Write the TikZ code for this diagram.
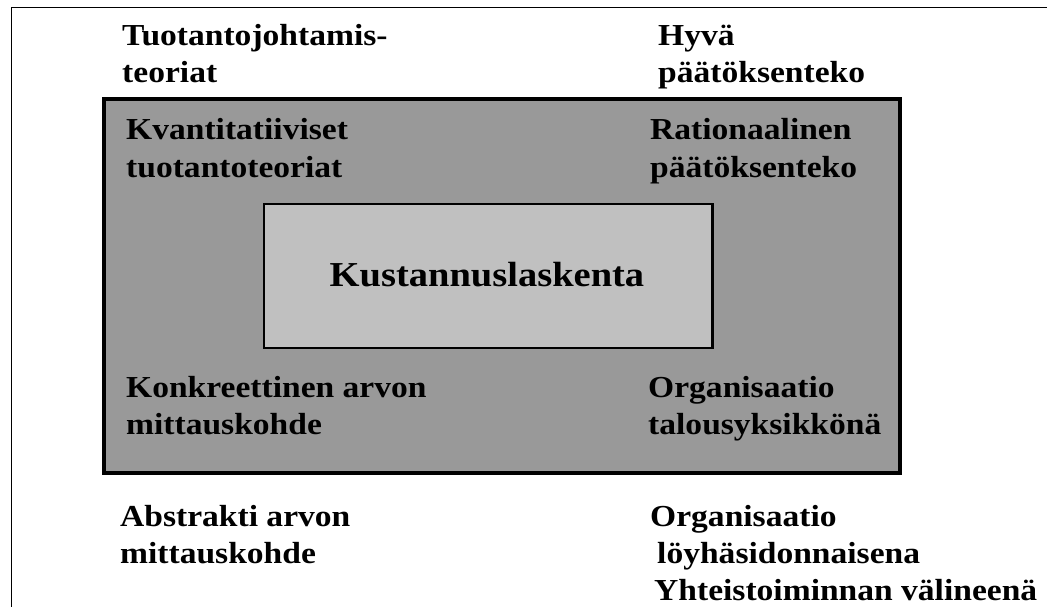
\documentclass[tikz,border=0pt]{standalone}
\usepackage{fontspec}
\setmainfont{Liberation Serif}[FakeStretch=1.1]
\definecolor{outerfill}{HTML}{999999}
\definecolor{innerfill}{HTML}{C0C0C0}
\begin{document}
\begin{tikzpicture}[x=1pt,y=-1pt,
  % multi-line labels are anchored at the baseline of their last line
  lbl/.style={anchor=base west,inner sep=0pt,align=left,
    font=\fontsize{30.5}{37}\selectfont\bfseries},
  title/.style={anchor=base,inner sep=0pt,
    font=\fontsize{35}{42}\selectfont\bfseries}]
\useasboundingbox (0,0) rectangle (1047,607);
% page frame (top and left rule)
\draw[line width=1.6pt] (11.5,607) -- (11.5,7.5) -- (1047,7.5);
% outer grey field
\draw[line width=4pt,fill=outerfill] (104,99) rectangle (900,473);
% inner light field
\draw[line width=2.3pt,fill=innerfill] (264,204) rectangle (712.5,348);
\node[title] (kust) at (487,286) {Kustannuslaskenta};
% labels outside the field
\node[lbl] (tuot) at (122,83) {Tuotantojohtamis-\\teoriat};
\node[lbl] (hyva) at (658,83) {Hyvä\\päätöksenteko};
\node[lbl] (abst) at (120,563) {Abstrakti arvon\\mittauskohde};
\node[lbl] (orgb) at (650,600) {Organisaatio\\\hspace*{7pt}löyhäsidonnaisena\\\hspace*{4pt}Yhteistoiminnan välineenä};
% labels inside the field
\node[lbl] (kvan) at (126,177) {Kvantitatiiviset\\tuotantoteoriat};
\node[lbl] (rati) at (650,177) {Rationaalinen\\päätöksenteko};
\node[lbl] (konk) at (126,434) {Konkreettinen arvon\\mittauskohde};
\node[lbl] (orga) at (648,434) {Organisaatio\\talousyksikkönä};
\end{tikzpicture}
\end{document}
